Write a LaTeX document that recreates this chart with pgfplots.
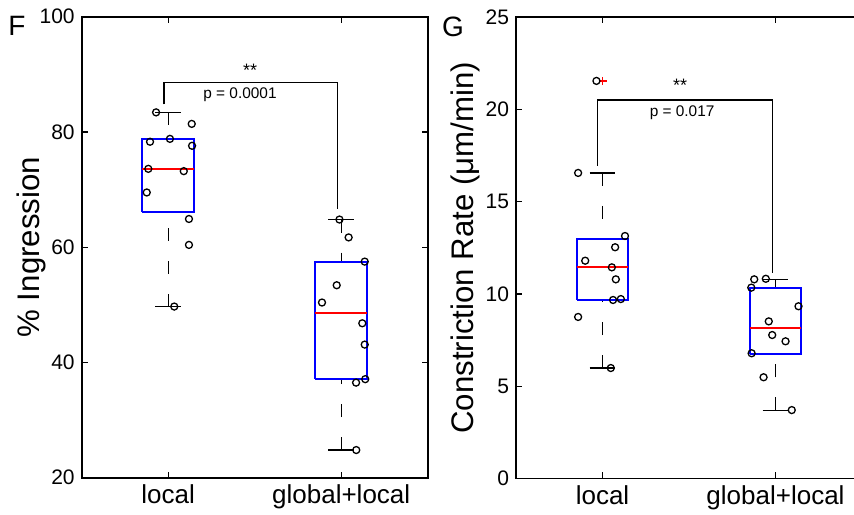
\documentclass[border=0pt]{standalone}
\usepackage{fontspec}
\setmainfont{Liberation Sans}
\usepackage{pgfplots}
\pgfplotsset{compat=1.18}

\pgfplotsset{
  panel/.style={
    scale only axis, width=173pt, height=230.5pt,
    xmin=0.5, xmax=2.5, xtick={1,2}, xticklabels={local,global+local},
    tick align=inside, xtick pos=both, ytick pos=both,
    major tick length=3pt, minor tick num=0,
    axis line style={line width=0.8pt},
    every tick/.style={black, line width=0.6pt},
    /pgf/number format/assume math mode=true,
    tick label style={font=\fontsize{10.5}{12}\selectfont},
    xticklabel style={font=\fontsize{13}{15}\selectfont},
    ylabel style={font=\fontsize{15.6}{18}\selectfont, anchor=center},
    clip=false,
  },
  boxln/.style={blue, line width=1pt},
  medln/.style={red, line width=1pt},
  whisk/.style={black, line width=0.7pt, dash pattern=on 6.5pt off 10pt},
  cap/.style={black, line width=0.7pt},
  pts/.style={only marks, mark=o, black, mark size=1.75pt, mark options={line width=0.65pt}},
}

\begin{document}
\begin{tikzpicture}
% ---------- F ----------
\begin{axis}[panel, at={(0,0)}, anchor=south west,
  ymin=20, ymax=100, ytick={20,40,60,80,100},
  ylabel={\% Ingression},
  ylabel style={at={(axis description cs:-0.145,0.5)}}]
% local: lw 49.7, q1 66.1, med 73.6, q3 78.7, uw 83.4
\addplot[whisk] coordinates {(1,49.7) (1,66.1)};
\addplot[whisk] coordinates {(1,83.4) (1,78.7)};
\addplot[cap] coordinates {(0.925,49.7) (1.075,49.7)};
\addplot[cap] coordinates {(0.925,83.4) (1.075,83.4)};
\addplot[boxln] coordinates {(0.85,66.1) (1.15,66.1) (1.15,78.7) (0.85,78.7) (0.85,66.1)};
\addplot[medln] coordinates {(0.85,73.6) (1.15,73.6)};
% global+local: lw 24.8, q1 37.1, med 48.6, q3 57.5, uw 64.8
\addplot[whisk] coordinates {(2,24.8) (2,37.1)};
\addplot[whisk] coordinates {(2,64.8) (2,57.5)};
\addplot[cap] coordinates {(1.925,24.8) (2.075,24.8)};
\addplot[cap] coordinates {(1.925,64.8) (2.075,64.8)};
\addplot[boxln] coordinates {(1.85,37.1) (2.15,37.1) (2.15,57.5) (1.85,57.5) (1.85,37.1)};
\addplot[medln] coordinates {(1.85,48.6) (2.15,48.6)};
\addplot[pts] coordinates {
  (0.930,83.4) (1.136,81.4) (0.895,78.3) (1.010,78.8) (1.138,77.6)
  (0.885,73.6) (1.090,73.2) (0.876,69.5) (1.120,64.9) (1.120,60.4)
  (1.035,49.7)
};
\addplot[pts] coordinates {
  (1.990,64.8) (2.043,61.7) (2.136,57.5) (1.974,53.4) (1.889,50.4)
  (2.122,46.8) (2.136,43.1) (2.086,36.5) (2.139,37.1) (2.087,24.8)
};
\addplot[black, line width=0.6pt] coordinates {(0.976,84.8) (0.976,88.6) (1.977,88.6) (1.977,66.7)};
\node[font=\fontsize{9}{10}\selectfont] at (axis cs:1.473,90.7) {**};
\node[font=\fontsize{7.7}{9}\selectfont] at (axis cs:1.415,86.4) {p = 0.0001};
\node[anchor=base west, font=\fontsize{14}{16}\selectfont, inner sep=0pt]
  at (axis description cs:-0.213,0.960) {F};
\end{axis}

% ---------- G ----------
\begin{axis}[panel, at={(217.15pt,-0.3pt)}, anchor=south west,
  ymin=0, ymax=25, ytick={0,5,10,15,20,25},
  ylabel={Constriction Rate (μm/min)},
  ylabel style={at={(axis description cs:-0.1475,0.5)}}]
% local: lw 5.98, q1 9.69, med 11.44, q3 12.96, uw 16.56, outlier 21.55
\addplot[whisk] coordinates {(1,5.98) (1,9.69)};
\addplot[whisk] coordinates {(1,16.56) (1,12.96)};
\addplot[cap] coordinates {(0.925,5.98) (1.075,5.98)};
\addplot[cap] coordinates {(0.925,16.56) (1.075,16.56)};
\addplot[boxln] coordinates {(0.85,9.69) (1.15,9.69) (1.15,12.96) (0.85,12.96) (0.85,9.69)};
\addplot[medln] coordinates {(0.85,11.44) (1.15,11.44)};
% global+local: lw 3.69, q1 6.76, med 8.13, q3 10.34, uw 10.79
\addplot[whisk] coordinates {(2,3.69) (2,6.76)};
\addplot[whisk] coordinates {(2,10.79) (2,10.34)};
\addplot[cap] coordinates {(1.925,3.69) (2.075,3.69)};
\addplot[cap] coordinates {(1.925,10.79) (2.075,10.79)};
\addplot[boxln] coordinates {(1.85,6.76) (2.15,6.76) (2.15,10.34) (1.85,10.34) (1.85,6.76)};
\addplot[medln] coordinates {(1.85,8.13) (2.15,8.13)};
\addplot[only marks, mark=+, red, mark size=2pt, mark options={line width=0.7pt}]
  coordinates {(1.0,21.55)};
\addplot[pts] coordinates {
  (0.965,21.55) (0.859,16.56) (1.130,13.14) (1.073,12.53) (0.900,11.80)
  (1.054,11.44) (1.077,10.79) (1.061,9.67) (1.106,9.72) (0.859,8.75)
  (1.048,5.98)
};
\addplot[pts] coordinates {
  (1.877,10.79) (1.944,10.82) (1.860,10.34) (2.133,9.33) (1.961,8.51)
  (1.981,7.77) (2.058,7.43) (1.862,6.78) (1.931,5.48) (2.094,3.70)
};
\addplot[black, line width=0.6pt] coordinates {(0.971,16.95) (0.971,20.52) (1.984,20.52) (1.984,11.15)};
\node[font=\fontsize{9}{10}\selectfont] at (axis cs:1.448,21.3) {**};
\node[font=\fontsize{7.7}{9}\selectfont] at (axis cs:1.46,19.83) {p = 0.017};
\node[anchor=base west, font=\fontsize{14}{16}\selectfont, inner sep=0pt]
  at (axis description cs:-0.215,0.958) {G};
\end{axis}

\pgfresetboundingbox
\path[use as bounding box] (-40.85pt,-18.15pt) rectangle (386.15pt,238.85pt);
\end{tikzpicture}
\end{document}
